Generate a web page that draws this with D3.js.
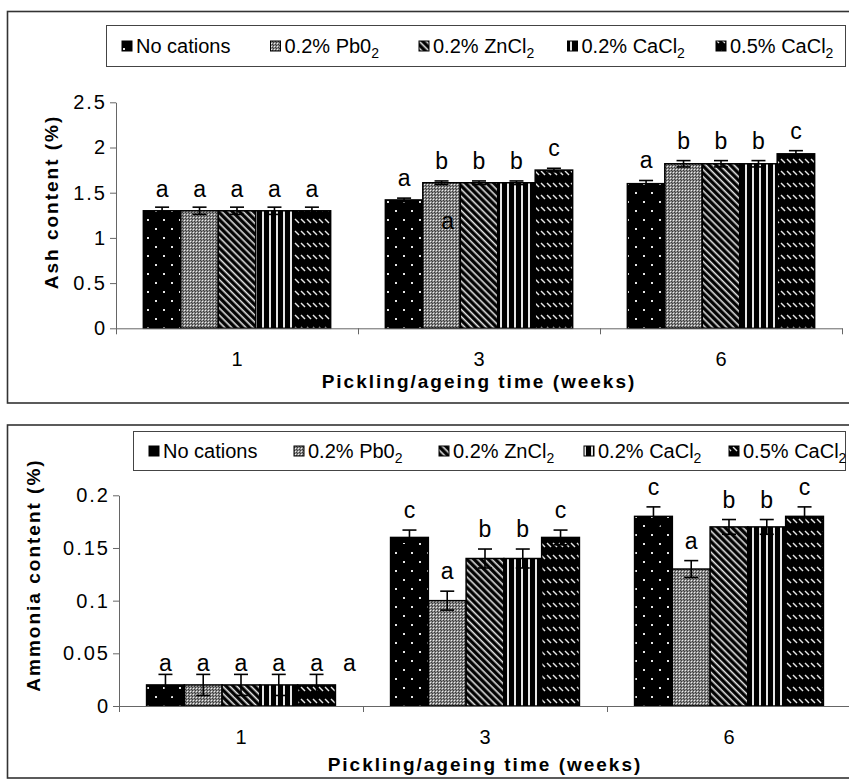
<!DOCTYPE html>
<html><head><meta charset="utf-8">
<script src="https://cdn.jsdelivr.net/npm/d3@7"></script>
<style>
body{margin:0;background:#fff}
svg{display:block}
text{font-family:"Liberation Sans",Arial,Helvetica,sans-serif;fill:#000}
</style>
</head><body>
<svg id="chart" width="849" height="783"></svg>
<script>
// ---------------- DATA ----------------
const weeks = ["1", "3", "6"];
const seriesLabels = ["No cations", "0.2% Pb0", "0.2% ZnCl", "0.2% CaCl", "0.5% CaCl"];
const seriesSubs = ["", "2", "2", "2", "2"];

// values per week (rows) and series (columns)
const ashValues = [
  [1.30, 1.30, 1.30, 1.30, 1.30],
  [1.42, 1.61, 1.61, 1.61, 1.75],
  [1.60, 1.82, 1.82, 1.82, 1.93]
];
const ashErrors = [
  [0.04, 0.04, 0.04, 0.04, 0.04],
  [0.02, 0.02, 0.02, 0.02, 0.02],
  [0.035, 0.035, 0.035, 0.035, 0.035]
];
const ashLetters = [
  ["a", "a", "a", "a", "a"],
  ["a", "b", "b", "b", "c"],
  ["a", "b", "b", "b", "c"]
];
const ashTicks = [0, 0.5, 1, 1.5, 2, 2.5];

const ammoniaValues = [
  [0.02, 0.02, 0.02, 0.02, 0.02],
  [0.16, 0.10, 0.14, 0.14, 0.16],
  [0.18, 0.13, 0.17, 0.17, 0.18]
];
const ammoniaErrors = [
  [0.01, 0.01, 0.01, 0.01, 0.01],
  [0.007, 0.009, 0.009, 0.009, 0.007],
  [0.009, 0.008, 0.007, 0.007, 0.009]
];
const ammoniaLetters = [
  ["a", "a", "a", "a", "a"],
  ["c", "a", "b", "b", "c"],
  ["c", "a", "b", "b", "c"]
];
const ammoniaTicks = [0, 0.05, 0.1, 0.15, 0.2];

// stray letters printed in the original figure (week, series slot, value level)
const ashStray = [{week: "3", slot: 1, value: 1.10, text: "a"}];
const ammoniaStray = [{week: "1", slot: 5, value: 0.033, text: "a"}];

// ---------------- DRAW ----------------
const svg = d3.select("#chart");
const defs = svg.append("defs");

function pattern(id, w, h, draw, transform) {
  const p = defs.append("pattern").attr("id", id)
    .attr("patternUnits", "userSpaceOnUse").attr("width", w).attr("height", h);
  if (transform) p.attr("patternTransform", transform);
  draw(p);
}
const LIGHT = "#e6e6e6";
pattern("pat0", 16, 18, p => {
  p.append("rect").attr("width", 16).attr("height", 18).attr("fill", "#000");
  p.append("rect").attr("x", 3).attr("y", 3).attr("width", 2).attr("height", 2).attr("fill", LIGHT);
  p.append("rect").attr("x", 11).attr("y", 12).attr("width", 2).attr("height", 2).attr("fill", LIGHT);
});
pattern("pat1", 3, 3, p => {
  p.append("rect").attr("width", 3).attr("height", 3).attr("fill", "#8a8a8a");
  p.append("rect").attr("width", 1).attr("height", 1).attr("fill", "#3a3a3a");
  p.append("rect").attr("x", 1).attr("y", 1).attr("width", 1).attr("height", 1).attr("fill", "#f0f0f0");
  p.append("rect").attr("x", 2).attr("y", 2).attr("width", 1).attr("height", 1).attr("fill", "#3a3a3a");
});
pattern("pat2", 5, 5, p => {
  p.append("rect").attr("width", 5).attr("height", 5).attr("fill", "#000");
  p.append("rect").attr("x", 1.5).attr("width", 1.6).attr("height", 5).attr("fill", LIGHT);
}, "rotate(-45)");
pattern("pat3", 7, 7, p => {
  p.append("rect").attr("width", 7).attr("height", 7).attr("fill", "#000");
  p.append("rect").attr("x", 3).attr("width", 2).attr("height", 7).attr("fill", LIGHT);
});
pattern("pat4", 6, 12, p => {
  p.append("rect").attr("width", 6).attr("height", 12).attr("fill", "#000");
  p.append("path").attr("d", "M1,3 L5,7").attr("stroke", LIGHT).attr("stroke-width", 1.4);
});

function drawPanel(cfg) {
  const g = svg.append("g");
  // outer frame
  g.append("rect").attr("x", 7.5).attr("y", cfg.frameTop).attr("width", 870)
    .attr("height", cfg.frameBottom - cfg.frameTop)
    .attr("fill", "none").attr("stroke", "#333").attr("stroke-width", 1.6);

  // legend
  const lg = g.append("g");
  lg.append("rect").attr("x", cfg.legend.x).attr("y", cfg.legend.y)
    .attr("width", cfg.legend.w).attr("height", cfg.legend.h)
    .attr("fill", "#fff").attr("stroke", "#444").attr("stroke-width", 1);
  const cy = cfg.legend.y + cfg.legend.h / 2;
  seriesLabels.forEach((lab, i) => {
    const sx = cfg.legend.first + i * cfg.legend.step;
    lg.append("rect").attr("x", sx).attr("y", cy - 5).attr("width", 10).attr("height", 10)
      .attr("fill", `url(#pat${i})`).attr("stroke", "#000").attr("stroke-width", 1);
    const t = lg.append("text").attr("x", sx + 14).attr("y", cy + 7)
      .style("font-size", "20px");
    t.append("tspan").text(lab);
    if (seriesSubs[i]) t.append("tspan").attr("dy", 5).style("font-size", "14px").text(seriesSubs[i]);
  });

  const x0 = d3.scaleBand().domain(weeks).range([cfg.xLeft, cfg.xRight]).paddingInner(0).paddingOuter(0);
  const x1 = d3.scaleBand().domain(d3.range(seriesLabels.length)).range([0, x0.bandwidth()])
    .paddingInner(0).paddingOuter(0.73);
  const y = d3.scaleLinear().domain([0, cfg.yMax]).range([cfg.yBottom, cfg.yTop]);

  // bars
  const rows = [];
  weeks.forEach((w, wi) => cfg.values[wi].forEach((v, si) => rows.push({
    w, wi, si, v, e: cfg.errors[wi][si], l: cfg.letters[wi][si]
  })));
  g.append("g").selectAll("rect").data(rows).join("rect")
    .attr("x", d => x0(d.w) + x1(d.si))
    .attr("width", x1.bandwidth())
    .attr("y", d => y(d.v))
    .attr("height", d => y(0) - y(d.v))
    .attr("fill", d => `url(#pat${d.si})`)
    .attr("stroke", "#000").attr("stroke-width", 1.5);

  // axes
  const yAx = g.append("g").attr("transform", `translate(${cfg.xLeft},0)`)
    .call(d3.axisLeft(y).tickValues(cfg.ticks).tickSize(6).tickSizeOuter(0).tickPadding(3)
      .tickFormat(d => String(d)));
  yAx.selectAll("path,line").attr("stroke", "#666");
  yAx.selectAll("text").style("font-size", "20px").style("letter-spacing", "2px").attr("fill", "#000");

  const xb = d3.scaleLinear().domain([0, weeks.length]).range([cfg.xLeft, cfg.xRight]);
  const xAx = g.append("g").attr("transform", `translate(0,${cfg.yBottom})`)
    .call(d3.axisBottom(xb).tickValues(d3.range(weeks.length + 1)).tickSize(6).tickSizeOuter(0).tickFormat(""));
  xAx.selectAll("path,line").attr("stroke", "#666");
  const xLab = g.append("g").attr("transform", `translate(0,${cfg.yBottom})`)
    .call(d3.axisBottom(x0).tickSize(0).tickPadding(24));
  xLab.select(".domain").remove();
  xLab.selectAll("text").style("font-size", "20px").attr("fill", "#000");

  // error bars
  const eb = g.append("g").attr("stroke", "#000").attr("stroke-width", 1.6);
  rows.forEach(d => {
    const cx = x0(d.w) + x1(d.si) + x1.bandwidth() / 2;
    eb.append("line").attr("x1", cx).attr("x2", cx).attr("y1", y(d.v - d.e)).attr("y2", y(d.v + d.e));
    [d.v - d.e, d.v + d.e].forEach(val => eb.append("line")
      .attr("x1", cx - 7).attr("x2", cx + 7).attr("y1", y(val)).attr("y2", y(val)));
  });

  // significance letters
  g.append("g").selectAll("text").data(rows).join("text")
    .attr("x", d => x0(d.w) + x1(d.si) + x1.bandwidth() / 2)
    .attr("y", d => y(d.v + d.e) - cfg.letterGap[d.wi])
    .attr("text-anchor", "middle").style("font-size", "23px")
    .text(d => d.l);
  g.append("g").selectAll("text").data(cfg.stray).join("text")
    .attr("x", d => x0(d.week) + x1.step() * (d.slot + 0.73) + x1.bandwidth() / 2 + (d.slot >= 5 ? -5 : 6))
    .attr("y", d => y(d.value))
    .attr("text-anchor", "middle").style("font-size", "23px")
    .attr("fill", d => d.slot >= 5 ? "#000" : "#333")
    .text(d => d.text);

  // titles
  g.append("text").attr("transform", `translate(${cfg.yTitleX},${cfg.yTitleY}) rotate(-90)`)
    .attr("text-anchor", "middle").attr("dy", "0.35em")
    .style("font-size", "19px").style("font-weight", "bold").style("letter-spacing", "2px")
    .text(cfg.yTitle);
  g.append("text").attr("x", (cfg.xLeft + cfg.xRight) / 2).attr("y", cfg.xTitleY)
    .attr("text-anchor", "middle")
    .style("font-size", "19px").style("font-weight", "bold").style("letter-spacing", "2px")
    .text("Pickling/ageing time (weeks)");
}

drawPanel({
  frameTop: 11.5, frameBottom: 403,
  legend: {x: 106.5, y: 25.5, w: 739, h: 41, first: 122, step: 148.5},
  xLeft: 116, xRight: 842, yTop: 102.3, yBottom: 328.3, yMax: 2.5,
  ticks: ashTicks, values: ashValues, errors: ashErrors, letters: ashLetters,
  letterGap: [10, 12, 12], stray: ashStray,
  yTitle: "Ash content (%)", yTitleX: 51, yTitleY: 202, xTitleY: 388
});
drawPanel({
  frameTop: 425, frameBottom: 778,
  legend: {x: 133.5, y: 431.5, w: 712, h: 39, first: 149, step: 145},
  xLeft: 119, xRight: 851, yTop: 495.3, yBottom: 706, yMax: 0.2,
  ticks: ammoniaTicks, values: ammoniaValues, errors: ammoniaErrors, letters: ammoniaLetters,
  letterGap: [3, 12, 12], stray: ammoniaStray,
  yTitle: "Ammonia content (%)", yTitleX: 33, yTitleY: 575, xTitleY: 771
});
</script>
</body></html>
